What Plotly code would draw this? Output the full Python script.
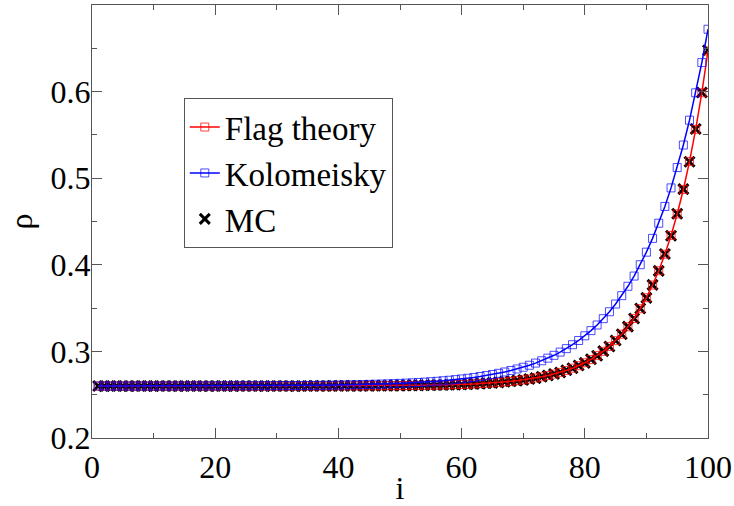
import plotly.graph_objects as go

site = list(range(1, 101))

flag_theory = [
    0.2600, 0.2600, 0.2600, 0.2600, 0.2600, 0.2600, 0.2600, 0.2600, 0.2600, 0.2600,
    0.2600, 0.2600, 0.2600, 0.2600, 0.2600, 0.2600, 0.2600, 0.2600, 0.2600, 0.2600,
    0.2600, 0.2600, 0.2600, 0.2600, 0.2600, 0.2600, 0.2600, 0.2600, 0.2600, 0.2600,
    0.2600, 0.2600, 0.2600, 0.2601, 0.2601, 0.2601, 0.2601, 0.2601, 0.2601, 0.2602,
    0.2602, 0.2602, 0.2602, 0.2602, 0.2603, 0.2603, 0.2603, 0.2604, 0.2604, 0.2605,
    0.2606, 0.2607, 0.2608, 0.2609, 0.2610, 0.2611, 0.2613, 0.2614, 0.2616, 0.2619,
    0.2621, 0.2624, 0.2628, 0.2632, 0.2636, 0.2642, 0.2648, 0.2654, 0.2662, 0.2671,
    0.2681, 0.2693, 0.2706, 0.2721, 0.2738, 0.2758, 0.2780, 0.2806, 0.2835, 0.2869,
    0.2907, 0.2951, 0.3001, 0.3058, 0.3124, 0.3199, 0.3284, 0.3381, 0.3493, 0.3620,
    0.3766, 0.3932, 0.4122, 0.4339, 0.4587, 0.4870, 0.5194, 0.5564, 0.5987, 0.6470,
]

kolomeisky = [
    0.2600, 0.2600, 0.2600, 0.2600, 0.2600, 0.2600, 0.2600, 0.2600, 0.2600, 0.2600,
    0.2600, 0.2600, 0.2601, 0.2601, 0.2601, 0.2601, 0.2601, 0.2601, 0.2602, 0.2602,
    0.2602, 0.2602, 0.2603, 0.2603, 0.2603, 0.2603, 0.2603, 0.2604, 0.2604, 0.2604,
    0.2605, 0.2605, 0.2606, 0.2606, 0.2607, 0.2607, 0.2608, 0.2609, 0.2610, 0.2611,
    0.2613, 0.2614, 0.2615, 0.2617, 0.2619, 0.2621, 0.2623, 0.2625, 0.2628, 0.2631,
    0.2634, 0.2637, 0.2641, 0.2645, 0.2650, 0.2655, 0.2661, 0.2667, 0.2674, 0.2682,
    0.2690, 0.2699, 0.2710, 0.2721, 0.2733, 0.2747, 0.2762, 0.2779, 0.2797, 0.2817,
    0.2840, 0.2865, 0.2892, 0.2922, 0.2955, 0.2992, 0.3032, 0.3077, 0.3126, 0.3180,
    0.3240, 0.3305, 0.3378, 0.3458, 0.3547, 0.3644, 0.3752, 0.3870, 0.4001, 0.4146,
    0.4305, 0.4480, 0.4674, 0.4888, 0.5123, 0.5383, 0.5670, 0.5986, 0.6335, 0.6720,
]

mc = [
    0.2601, 0.2599, 0.2600, 0.2601, 0.2600, 0.2599, 0.2600, 0.2601, 0.2600, 0.2599,
    0.2600, 0.2601, 0.2600, 0.2599, 0.2600, 0.2600, 0.2601, 0.2600, 0.2599, 0.2600,
    0.2601, 0.2600, 0.2599, 0.2600, 0.2601, 0.2600, 0.2600, 0.2599, 0.2601, 0.2600,
    0.2600, 0.2601, 0.2599, 0.2601, 0.2600, 0.2602, 0.2601, 0.2600, 0.2602, 0.2601,
    0.2603, 0.2602, 0.2601, 0.2603, 0.2602, 0.2604, 0.2603, 0.2603, 0.2605, 0.2604,
    0.2606, 0.2608, 0.2607, 0.2610, 0.2609, 0.2612, 0.2612, 0.2615, 0.2617, 0.2618,
    0.2622, 0.2625, 0.2627, 0.2633, 0.2637, 0.2641, 0.2649, 0.2655, 0.2663, 0.2670,
    0.2682, 0.2692, 0.2708, 0.2722, 0.2739, 0.2757, 0.2782, 0.2805, 0.2837, 0.2868,
    0.2909, 0.2950, 0.3003, 0.3057, 0.3126, 0.3198, 0.3286, 0.3380, 0.3495, 0.3618,
    0.3768, 0.3930, 0.4125, 0.4336, 0.4590, 0.4874, 0.5190, 0.5568, 0.5990, 0.6478,
]

x_ticks = [0, 20, 40, 60, 80, 100]
y_ticks = [0.2, 0.3, 0.4, 0.5, 0.6]

FONT = "Liberation Serif"
AXIS_GREY = "#555555"

fig = go.Figure()

fig.add_trace(go.Scatter(
    x=site, y=mc, mode="markers", name="MC", legendrank=3,
    marker=dict(symbol="x-thin-open", size=10, color="black",
                line=dict(color="black", width=3)),
))
fig.add_trace(go.Scatter(
    x=site, y=flag_theory, mode="lines+markers", name="Flag theory", legendrank=1,
    line=dict(color="#ff0000", width=1.5),
    marker=dict(symbol="square-open", size=8, color="rgba(255,0,0,0.75)",
                line=dict(width=1)),
))
fig.add_trace(go.Scatter(
    x=site, y=kolomeisky, mode="lines+markers", name="Kolomeisky", legendrank=2,
    line=dict(color="#0000ff", width=1.5),
    marker=dict(symbol="square-open", size=8, color="rgba(0,0,255,0.7)",
                line=dict(width=1)),
))

axis_common = dict(
    showgrid=False, zeroline=False, showline=True, linecolor=AXIS_GREY, linewidth=1.2,
    mirror="allticks", ticks="inside", ticklen=10, tickwidth=1.2, tickcolor=AXIS_GREY,
    tickfont=dict(family=FONT, size=32, color="black"),
    automargin=False,
)

fig.update_xaxes(
    range=[0, 100], tickvals=x_ticks,
    minor=dict(ticks="inside", ticklen=5, dtick=10, tickcolor=AXIS_GREY, tickwidth=1.2),
    title=dict(text="i", font=dict(family=FONT, size=32, color="black"), standoff=0),
    **axis_common,
)
fig.update_yaxes(
    range=[0.2, 0.7], tickvals=y_ticks, tickformat=".1f",
    minor=dict(ticks="inside", ticklen=5, dtick=0.05, tickcolor=AXIS_GREY, tickwidth=1.2),
    title=dict(text="ρ", font=dict(family=FONT, size=32, color="black"), standoff=8),
    ticklabelstandoff=-6,
    **axis_common,
)

fig.update_layout(
    width=734, height=506,
    margin=dict(l=92, r=26, t=5, b=68),
    paper_bgcolor="white", plot_bgcolor="white",
    showlegend=True,
    legend=dict(
        x=0.149, y=0.785, xanchor="left", yanchor="top",
        bgcolor="white", bordercolor=AXIS_GREY, borderwidth=1,
        font=dict(family=FONT, size=33, color="black"),
        itemwidth=30, tracegroupgap=0,
    ),
)

fig.write_html("out.html")
